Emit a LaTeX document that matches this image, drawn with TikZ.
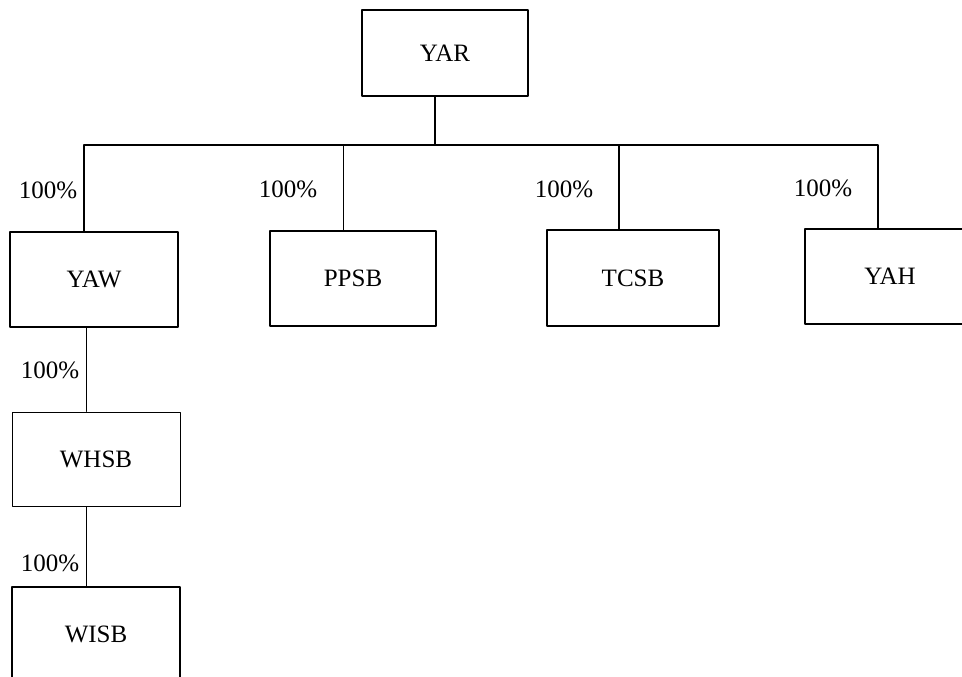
\documentclass[tikz,border=0pt]{standalone}
\usepackage{fontspec}
\setmainfont{Liberation Serif}
\usepackage{pgf,tikz}
\usetikzlibrary{arrows}

\begin{document}
\begin{tikzpicture}[line cap=round,line join=round,x=1pt,y=-1pt,
  firm/.style={draw,thick,line width=1.6pt,inner sep=0pt,minimum width=168pt,minimum height=95pt,font=\fontsize{25}{30}\selectfont},
  pct/.style={font=\fontsize{25}{30}\selectfont,inner sep=0pt},
  link/.style={line width=1.6pt},
  thinlink/.style={line width=0.9pt}]
\useasboundingbox (0,0) rectangle (962,677);
\clip (0,0) rectangle (962,677);
% holding company
\node[firm,minimum width=166pt,minimum height=86pt] (yar) at (445,53) {YAR};
% subsidiaries
\node[firm] (yaw) at (94,279.5) {YAW};
\node[firm,minimum width=166pt] (ppsb) at (353,278.5) {PPSB};
\node[firm,minimum width=172pt,minimum height=96pt] (tcsb) at (633,278) {TCSB};
\node[firm,minimum width=170pt] (yah) at (890,276.5) {YAH};
\node[firm,line width=1pt,minimum height=94pt] (whsb) at (96,459) {WHSB};
\node[firm] (wisb) at (96,634.5) {WISB};
% connectors
\coordinate (bar) at (435,145);
\coordinate (tyaw) at (84,232);
\coordinate (tppsb) at (343,231);
\coordinate (ttcsb) at (619,230);
\coordinate (tyah) at (878,229);
\draw[link] (yar.south -| bar) -- (bar);
\draw[link] (tyaw) |- (bar) -| (tyah);
\draw[thinlink] (tppsb) -- (tppsb |- bar);
\draw[link] (ttcsb) -- (ttcsb |- bar);
\draw[thinlink] (yaw.south -| 86,0) -- (whsb.north -| 86,0);
\draw[thinlink] (whsb.south -| 86,0) -- (wisb.north -| 86,0);
% shares
\node[pct] (p1) at (48,190) {100\%};
\node[pct] (p2) at (288,189) {100\%};
\node[pct] (p3) at (564,189) {100\%};
\node[pct] (p4) at (823,188) {100\%};
\node[pct] (p5) at (50,370) {100\%};
\node[pct] (p6) at (50,563) {100\%};
\end{tikzpicture}
\end{document}
